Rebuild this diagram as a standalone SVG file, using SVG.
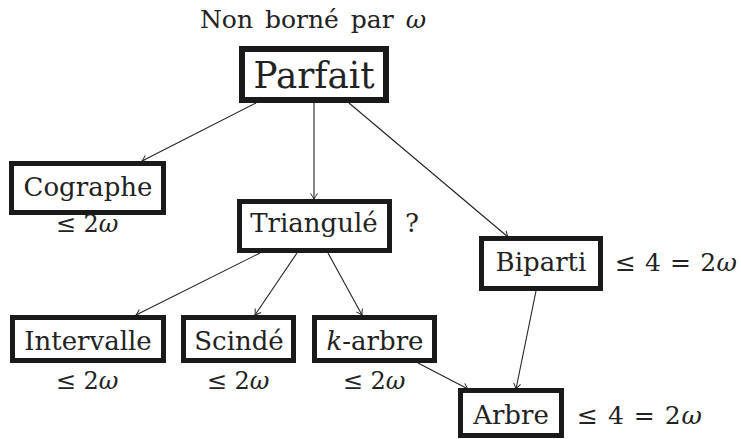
<svg xmlns="http://www.w3.org/2000/svg" width="741" height="439" viewBox="0 0 741 439">
<defs>
<style>
.box{fill:#fff;stroke:#1a1a1a;stroke-width:5}
.big{stroke-width:6}
text{font-family:"DejaVu Serif","Liberation Serif",serif;fill:#222}
.lbl{font-size:26px;text-anchor:middle}
.math{font-size:24px}
.edge{stroke:#222;stroke-width:1.1;fill:none;marker-end:url(#arr)}
</style>
<marker id="arr" viewBox="-7 -5 8 10" refX="0" refY="0" markerWidth="8" markerHeight="10" markerUnits="userSpaceOnUse" orient="auto">
<path d="M -5.5 -3.5 Q -2 -1 0 0 Q -2 1 -5.5 3.5" fill="none" stroke="#222" stroke-width="1"/>
</marker>
</defs>
<rect width="741" height="439" fill="#fff"/>
<text x="313" y="28" font-size="25" text-anchor="middle" word-spacing="4">Non borné par <tspan font-style="italic">ω</tspan></text>
<g id="edges">
<line class="edge" x1="256" y1="103" x2="142" y2="161"/>
<line class="edge" x1="314" y1="103" x2="314" y2="199"/>
<line class="edge" x1="349" y1="103" x2="508" y2="237"/>
<line class="edge" x1="260" y1="253" x2="136" y2="315"/>
<line class="edge" x1="297" y1="253" x2="255" y2="315"/>
<line class="edge" x1="328" y1="253" x2="362" y2="315"/>
<line class="edge" x1="418" y1="363" x2="468" y2="389"/>
<line class="edge" x1="536" y1="291" x2="516" y2="389"/>
</g>
<g id="parfait">
<rect class="box big" x="242" y="49" width="144" height="51"/>
<text class="lbl" x="314" y="88" style="font-size:38px" textLength="121" lengthAdjust="spacingAndGlyphs">Parfait</text>
</g>
<g id="cographe">
<rect class="box" x="11.5" y="163.5" width="152" height="49"/>
<text class="lbl" x="88" y="196">Cographe</text>
<text class="math" x="87" y="232" text-anchor="middle">≤ 2<tspan font-style="italic">ω</tspan></text>
</g>
<g id="triangule">
<rect class="box" x="239.5" y="201.5" width="150" height="49"/>
<text class="lbl" x="314" y="232">Triangulé</text>
<text class="lbl" x="412" y="232">?</text>
</g>
<g id="biparti">
<rect class="box" x="481.5" y="238.5" width="119" height="50"/>
<text class="lbl" x="541" y="271">Biparti</text>
<text class="math" x="615" y="271" style="font-size:25px" textLength="122">≤ 4 = 2<tspan font-style="italic">ω</tspan></text>
</g>
<g id="intervalle">
<rect class="box" x="12.5" y="317.5" width="151" height="43"/>
<text class="lbl" x="88" y="350">Intervalle</text>
<text class="math" x="87" y="389" text-anchor="middle">≤ 2<tspan font-style="italic">ω</tspan></text>
</g>
<g id="scinde">
<rect class="box" x="183.5" y="317.5" width="110" height="43"/>
<text class="lbl" x="239" y="350">Scindé</text>
<text class="math" x="238" y="389" text-anchor="middle">≤ 2<tspan font-style="italic">ω</tspan></text>
</g>
<g id="karbre">
<rect class="box" x="314.5" y="317.5" width="120" height="43"/>
<text class="lbl" x="375" y="350"><tspan font-style="italic">k</tspan>-arbre</text>
<text class="math" x="374" y="389" text-anchor="middle">≤ 2<tspan font-style="italic">ω</tspan></text>
</g>
<g id="arbre">
<rect class="box" x="460.5" y="390.5" width="101" height="45"/>
<text class="lbl" x="511" y="424">Arbre</text>
<text class="math" x="577" y="424" style="font-size:25px" textLength="125">≤ 4 = 2<tspan font-style="italic">ω</tspan></text>
</g>
</svg>
